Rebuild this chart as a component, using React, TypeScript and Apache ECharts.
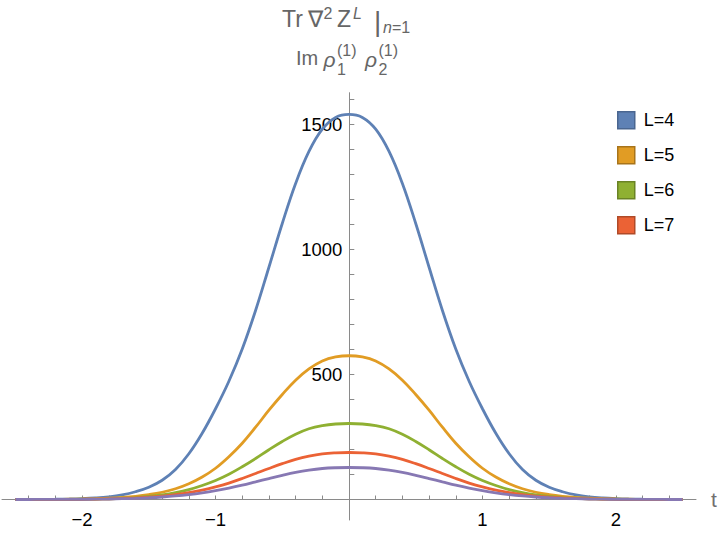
import React, { useEffect, useRef } from "react";
import * as echarts from "echarts";

const tValues = [
  -2.5, -2.4, -2.3, -2.2, -2.1, -2.0, -1.9, -1.8, -1.7, -1.6, -1.5, -1.4, -1.3, -1.2, -1.1, -1.0, -0.9, -0.8,
  -0.7, -0.6, -0.5, -0.4, -0.3, -0.2, -0.1, 0, 0.1, 0.2, 0.3, 0.4, 0.5, 0.6, 0.7, 0.8, 0.9, 1.0, 1.1, 1.2, 1.3,
  1.4, 1.5, 1.6, 1.7, 1.8, 1.9, 2.0, 2.1, 2.2, 2.3, 2.4, 2.5,
];

const seriesL4 = [
  0.08, 0.23, 0.5, 0.9, 1.8, 3.4, 6.2, 10.8, 18.5, 31, 49, 77, 120, 183, 265, 363, 473, 602, 756, 929, 1104, 1264,
  1392, 1481, 1528, 1540, 1528, 1481, 1392, 1264, 1104, 929, 756, 602, 473, 363, 265, 183, 120, 77, 49, 31, 18.5,
  10.8, 6.2, 3.4, 1.8, 0.9, 0.5, 0.23, 0.08,
];
const seriesL5 = [
  0.05, 0.1, 0.2, 0.5, 0.9, 1.6, 2.9, 4.9, 8, 12.7, 19.5, 29, 43, 63, 90, 125, 171, 225, 289, 357, 420, 477, 522,
  554, 570, 575, 570, 554, 522, 477, 420, 357, 289, 225, 171, 125, 90, 63, 43, 29, 19.5, 12.7, 8, 4.9, 2.9, 1.6,
  0.9, 0.5, 0.2, 0.1, 0.05,
];
const seriesL6 = [
  0.03, 0.06, 0.15, 0.3, 0.6, 1.1, 1.8, 3, 4.9, 7.9, 12.2, 18.5, 27.4, 39.5, 56, 76, 101, 131, 164, 199, 232, 261,
  283, 295.5, 302, 304, 302, 295.5, 283, 261, 232, 199, 164, 131, 101, 76, 56, 39.5, 27.4, 18.5, 12.2, 7.9, 4.9,
  3, 1.8, 1.1, 0.6, 0.3, 0.15, 0.06, 0.03,
];
const seriesL7 = [
  0.04, 0.09, 0.19, 0.36, 0.6, 1.0, 1.7, 2.6, 4.1, 6.4, 9.4, 13.7, 19.6, 27.4, 37.6, 50.4, 65.8, 84, 104, 124.1,
  143.3, 160.7, 173.7, 182.7, 186.7, 188, 186.7, 182.7, 173.7, 160.7, 143.3, 124.1, 104, 84, 65.8, 50.4, 37.6,
  27.4, 19.6, 13.7, 9.4, 6.4, 4.1, 2.6, 1.7, 1.0, 0.6, 0.36, 0.19, 0.09, 0.04,
];
const seriesL8 = [
  0.04, 0.08, 0.14, 0.26, 0.45, 0.8, 1.2, 1.9, 3.1, 4.6, 6.9, 10, 14.2, 19.8, 26.9, 35.6, 45.8, 57.6, 70.7, 83.8,
  96.6, 108.2, 117.4, 123.9, 127, 128, 127, 123.9, 117.4, 108.2, 96.6, 83.8, 70.7, 57.6, 45.8, 35.6, 26.9, 19.8,
  14.2, 10, 6.9, 4.6, 3.1, 1.9, 1.2, 0.8, 0.45, 0.26, 0.14, 0.08, 0.04,
];

const seriesNames = ["L=4", "L=5", "L=6", "L=7", "L=8"];
const legendNames = ["L=4", "L=5", "L=6", "L=7"];
const seriesColors = ["#5e81b5", "#e19c24", "#8fb032", "#eb6235", "#8778b3"];
const legendBorders = ["#4a6690", "#a8741a", "#6a8325", "#b04a28"];

const xTickValues = [
  -2.4, -2.2, -2.0, -1.8, -1.6, -1.4, -1.2, -1.0, -0.8, -0.6, -0.4, -0.2, 0.2, 0.4, 0.6, 0.8, 1.0, 1.2, 1.4, 1.6,
  1.8, 2.0, 2.2, 2.4,
];
const xLabelValues = [-2, -1, 1, 2];
const yTickValues = [100, 200, 300, 400, 500, 600, 700, 800, 900, 1000, 1100, 1200, 1300, 1400, 1500, 1600];
const yLabelValues = [500, 1000, 1500];

const FONT = "Liberation Sans, Arial, sans-serif";
const TITLE_GRAY = "#666666";

export default function App() {
  const ref = useRef<HTMLDivElement>(null);

  useEffect(() => {
    if (!ref.current) return;
    const chart = echarts.init(ref.current, undefined, { renderer: "svg" });
    const allSeries = [seriesL4, seriesL5, seriesL6, seriesL7, seriesL8];

    const txt = (text: string, x: number, y: number, size: number, italic = false) => ({
      type: "text",
      x,
      y,
      silent: true,
      style: {
        text,
        fill: TITLE_GRAY,
        font: `${italic ? "italic " : ""}${size}px ${FONT}`,
        align: "left",
        verticalAlign: "middle",
      },
    });

    const option: any = {
      animation: false,
      backgroundColor: "#ffffff",
      grid: { left: 2, right: 24, top: 92.7, bottom: 14, containLabel: false, outerBoundsMode: "none" },
      xAxis: {
        type: "value",
        position: "bottom",
        offset: -20.5,
        min: -2.6,
        max: 2.6,
        name: "t",
        nameLocation: "end",
        nameGap: 15,
        nameTextStyle: { fontSize: 21, color: "#707070", fontFamily: FONT, verticalAlign: "middle" },
        axisLine: { onZero: false, lineStyle: { color: "#8a8a8a", width: 1 } },
        axisTick: {
          show: true,
          inside: true,
          length: 4,
          customValues: xTickValues,
          lineStyle: { color: "#8a8a8a", width: 1 },
        },
        axisLabel: {
          show: true,
          customValues: xLabelValues,
          margin: 10,
          fontSize: 18.5,
          fontFamily: FONT,
          color: "#000000",
          formatter: (v: number) => (v < 0 ? "\u2212" + Math.abs(v) : String(v)),
        },
        splitLine: { show: false },
      },
      yAxis: {
        type: "value",
        position: "left",
        offset: -347.3,
        min: -82,
        max: 1627,
        axisLine: { show: true, onZero: false, lineStyle: { color: "#8a8a8a", width: 1 } },
        axisTick: {
          show: true,
          inside: true,
          length: 5,
          customValues: yTickValues,
          lineStyle: { color: "#8a8a8a", width: 1 },
        },
        axisLabel: {
          show: true,
          customValues: yLabelValues,
          margin: 7,
          fontSize: 18.5,
          fontFamily: FONT,
          color: "#000000",
          formatter: (v: number) => String(v),
        },
        splitLine: { show: false },
      },
      legend: {
        orient: "vertical",
        left: 617,
        top: 111,
        padding: 0,
        itemWidth: 17,
        itemHeight: 17,
        itemGap: 16.5,
        icon: "rect",
        selectedMode: false,
        textStyle: { fontSize: 18, fontFamily: FONT, color: "#000000", padding: [0, 0, 0, 4] },
        data: legendNames.map((n, i) => ({
          name: n,
          icon: "rect",
          itemStyle: { color: seriesColors[i], borderColor: legendBorders[i], borderWidth: 1.5 },
        })),
      },
      series: allSeries.map((arr, i) => ({
        name: seriesNames[i],
        type: "line",
        data: tValues.map((t, j) => [t, arr[j]]),
        smooth: 0.4,
        symbol: "none",
        color: seriesColors[i],
        lineStyle: { width: 2.8, color: seriesColors[i] },
        emphasis: { disabled: true },
        z: 2 + i,
      })),
      graphic: [
        txt("Tr", 282, 18.5, 23),
        txt("\u2207", 307.5, 18.5, 23),
        txt("2", 323.5, 13.5, 16),
        txt("Z", 337, 18.5, 23),
        txt("L", 353, 13, 16, true),
        txt("|", 374, 21.5, 28),
        txt("n", 383, 27, 16, true),
        txt("=1", 392, 27, 16),
        txt("Im", 296, 58, 20),
        txt("\u03C1", 323.5, 59.5, 21, true),
        txt("1", 337, 69, 16),
        txt("(1)", 337, 50, 16),
        txt("\u03C1", 365, 59.5, 21, true),
        txt("2", 378.5, 69, 16),
        txt("(1)", 378.5, 50, 16),
      ],
    };

    chart.setOption(option);
    return () => chart.dispose();
  }, []);

  return (
    <div
      ref={ref}
      style={{ position: "absolute", left: 0, top: 0, width: 720, height: 534, background: "#fff" }}
    />
  );
}
